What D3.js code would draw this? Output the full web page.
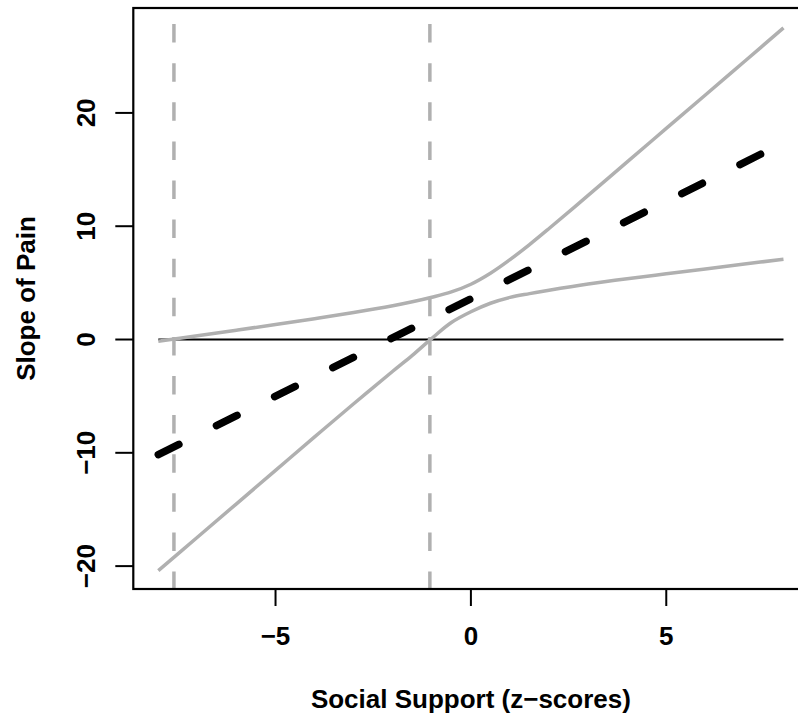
<!DOCTYPE html>
<html>
<head>
<meta charset="utf-8">
<script src="https://cdn.jsdelivr.net/npm/d3@7"></script>
<style>
  body { margin: 0; background: #fff; }
  text { font-family: "Liberation Sans", Arial, sans-serif; font-weight: bold; fill: #000; }
</style>
</head>
<body>
<div id="chart"></div>
<script>
// social support (z-scores) where the band was read
var zValues   = [-8, -7, -6, -5, -4, -3, -2, -1.5, -1, -0.5, 0, 0.5, 1, 1.5, 2, 3, 4, 5, 6, 7, 8];
// upper / lower confidence bound of the simple slope
var upperBand = [-0.15, 0.33, 0.82, 1.32, 1.84, 2.38, 2.98, 3.33, 3.73, 4.2, 4.88, 5.85, 7.05, 8.38, 9.8, 12.72, 15.68, 18.63, 21.58, 24.54, 27.5];
var lowerBand = [-20.4, -17.45, -14.5, -11.55, -8.6, -5.67, -2.8, -1.4, 0.1, 1.5, 2.45, 3.2, 3.72, 4.05, 4.35, 4.9, 5.37, 5.8, 6.23, 6.66, 7.09];
// estimated slope of pain (straight line, end points)
var slopeZ    = [-8, 8];
var slopeEst  = [-10.16, 17.36];
// Johnson-Neyman boundaries
var jnBounds  = [-7.6, -1.05];
var xTicks = [-5, 0, 5];
var yTicks = [-20, -10, 0, 10, 20];

var width = 798, height = 715;
var plotLeft = 133.3, plotRight = 808.5, plotTop = 8, plotBottom = 589;

var svg = d3.select("#chart").append("svg")
    .attr("width", width)
    .attr("height", height);

var x = d3.scaleLinear().domain([-8.64, 8.64]).range([plotLeft, plotRight]);
var y = d3.scaleLinear().domain([-22.02, 29.26]).range([plotBottom, plotTop]);

svg.append("defs").append("clipPath").attr("id", "plotclip")
  .append("rect")
    .attr("x", plotLeft).attr("y", plotTop)
    .attr("width", plotRight - plotLeft).attr("height", plotBottom - plotTop);

var plot = svg.append("g").attr("clip-path", "url(#plotclip)");

// zero line
plot.append("line")
    .attr("x1", x(-8)).attr("x2", x(8))
    .attr("y1", y(0)).attr("y2", y(0))
    .attr("stroke", "#000").attr("stroke-width", 2);

// vertical JN lines (drawn bottom to top so the dash pattern starts at the axis)
plot.selectAll("line.jn")
    .data(jnBounds)
    .enter().append("line")
    .attr("class", "jn")
    .attr("x1", function(d) { return x(d); })
    .attr("x2", function(d) { return x(d); })
    .attr("y1", plotBottom + 1).attr("y2", plotTop)
    .attr("stroke", "#b0b0b0")
    .attr("stroke-width", 3.5)
    .attr("stroke-dasharray", "18.5,20.6");

var band = d3.line()
    .x(function(d) { return x(d[0]); })
    .y(function(d) { return y(d[1]); })
    .curve(d3.curveCatmullRom.alpha(0.5));

[upperBand, lowerBand].forEach(function(series) {
  plot.append("path")
      .datum(d3.zip(zValues, series))
      .attr("d", band)
      .attr("fill", "none")
      .attr("stroke", "#b0b0b0")
      .attr("stroke-width", 3.5)
      .attr("stroke-linejoin", "round");
});

// estimated slope, thick dashed
plot.append("path")
    .datum(d3.zip(slopeZ, slopeEst))
    .attr("d", d3.line().x(function(d) { return x(d[0]); }).y(function(d) { return y(d[1]); }))
    .attr("fill", "none")
    .attr("stroke", "#000")
    .attr("stroke-width", 7.5)
    .attr("stroke-linecap", "round")
    .attr("stroke-dasharray", "23,42");

// box
svg.append("rect")
    .attr("x", plotLeft).attr("y", plotTop)
    .attr("width", plotRight - plotLeft).attr("height", plotBottom - plotTop)
    .attr("fill", "none")
    .attr("stroke", "#000")
    .attr("stroke-width", 2.2);

// x axis
var xAxis = svg.append("g");
xAxis.selectAll("line")
    .data(xTicks).enter().append("line")
    .attr("x1", function(d) { return x(d); })
    .attr("x2", function(d) { return x(d); })
    .attr("y1", plotBottom).attr("y2", plotBottom + 17)
    .attr("stroke", "#000").attr("stroke-width", 2);
xAxis.selectAll("text")
    .data(xTicks).enter().append("text")
    .attr("x", function(d) { return x(d); })
    .attr("y", 645)
    .attr("text-anchor", "middle")
    .style("font-size", "26px")
    .text(function(d) { return d < 0 ? "\u2212" + Math.abs(d) : d; });

// y axis
var yAxis = svg.append("g");
yAxis.selectAll("line")
    .data(yTicks).enter().append("line")
    .attr("x1", plotLeft - 18).attr("x2", plotLeft)
    .attr("y1", function(d) { return y(d); })
    .attr("y2", function(d) { return y(d); })
    .attr("stroke", "#000").attr("stroke-width", 2);
yAxis.selectAll("text")
    .data(yTicks).enter().append("text")
    .attr("transform", function(d) { return "translate(95," + y(d) + ") rotate(-90)"; })
    .attr("text-anchor", "middle")
    .style("font-size", "26px")
    .text(function(d) { return d < 0 ? "\u2212" + Math.abs(d) : d; });

// axis titles
svg.append("text")
    .attr("x", (plotLeft + plotRight) / 2)
    .attr("y", 708)
    .attr("text-anchor", "middle")
    .style("font-size", "26px")
    .text("Social Support (z\u2212scores)");

svg.append("text")
    .attr("transform", "translate(35," + (plotTop + plotBottom) / 2 + ") rotate(-90)")
    .attr("text-anchor", "middle")
    .style("font-size", "26px")
    .text("Slope of Pain");
</script>
</body>
</html>
